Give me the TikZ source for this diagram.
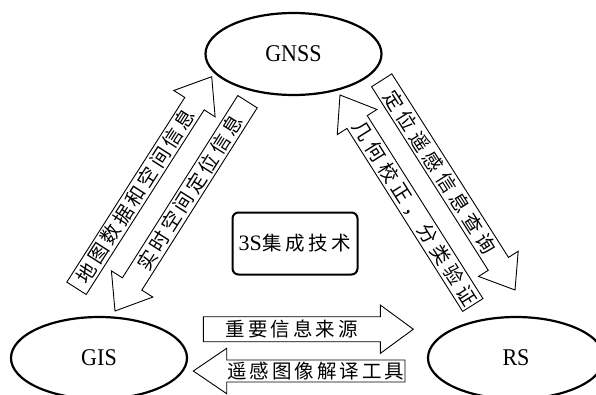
\documentclass[tikz,border=0pt]{standalone}
\usepackage{fontspec}
\setmainfont{Liberation Serif}
\newfontfamily\cjk{Noto Sans CJK SC}
\usetikzlibrary{calc,shapes.geometric}

% set a run of characters with a fixed gap between them
\makeatletter
\newcommand\spreadchars[2]{\def\sc@first{1}%
  \@tfor\sc@c:=#2\do{\ifx\sc@first\empty\hspace{#1}\fi\def\sc@first{}\sc@c}}
\makeatother

% outlined block arrow from a tail point to a tip point, with a label in its shaft
% #1 name, #2 tail, #3 tip, #4 shaft half width, #5 head half width, #6 head length, #7 label
\newcommand\blockarrow[7]{%
  \coordinate (#1-base) at ($(#3)!#6!(#2)$);
  \draw[arrowline] ($(#2)!#4!90:(#3)$) -- ($(#1-base)!#4!90:(#3)$)
    -- ($(#1-base)!#5!90:(#3)$) -- (#3) -- ($(#1-base)!#5!-90:(#3)$)
    -- ($(#1-base)!#4!-90:(#3)$) -- ($(#2)!#4!-90:(#3)$) -- cycle;
  \path (#2) -- (#1-base) node[midway, sloped, arrowtext] (#1) {#7};
}

\begin{document}
\begin{tikzpicture}[x=1pt, y=1pt,
  sys/.style={ellipse, draw, line width=2.2pt, inner sep=0pt,
    minimum width=176pt, minimum height=82pt,
    font=\fontsize{24}{24}\selectfont},
  core/.style={draw, line width=2pt, rounded corners=6pt, inner sep=0pt,
    minimum width=125pt, minimum height=62pt},
  arrowline/.style={draw, line width=0.9pt, line join=miter},
  arrowtext/.style={inner sep=0pt, font=\cjk\fontsize{19.5}{19.5}\selectfont}]
\useasboundingbox (0,0) rectangle (596,394);
\clip (0,0) rectangle (596,394);

% the three systems
\node[sys] (gnss) at (293.5,340) {\scalebox{0.92}[1]{GNSS}};
\node[sys] (gis)  at (99,36)     {\scalebox{0.92}[1]{GIS}};
\node[sys] (rs)   at (516,36)    {\scalebox{0.92}[1]{RS}};

% integration in the middle
\node[core] (core) at (295,150.5)
  {{\fontsize{22}{22}\selectfont 3S}\hspace{1pt}{\cjk\fontsize{19.5}{19.5}\selectfont\spreadchars{3.5pt}{集成技术}}};

% end points of the information flows
\coordinate (a-tail) at (76.5,105.7);  \coordinate (a-tip) at (211.7,317.3);
\coordinate (b-tail) at (247.5,292.3); \coordinate (b-tip) at (115,83);
\coordinate (c-tail) at (381.7,313.7); \coordinate (c-tip) at (515,104);
\coordinate (d-tail) at (472.8,89);    \coordinate (d-tip) at (340,299);
\coordinate (e-tail) at (203.3,64.8);  \coordinate (e-tip) at (413.3,64.8);
\coordinate (f-tail) at (405,23);      \coordinate (f-tip) at (193.3,23);

\blockarrow{gis2gnss}{a-tail}{a-tip}{11.5pt}{24.5pt}{32pt}{\spreadchars{3.3pt}{地图数据和空间信息}}
\blockarrow{gnss2gis}{b-tail}{b-tip}{11.5pt}{24.5pt}{32pt}{\spreadchars{3.3pt}{实时空间定位信息}}
\blockarrow{gnss2rs}{c-tail}{c-tip}{12pt}{23.5pt}{31pt}{\spreadchars{4.8pt}{定位遥感信息查询}}
\blockarrow{rs2gnss}{d-tail}{d-tip}{12pt}{23.5pt}{32pt}{\spreadchars{4.8pt}{几何校正，分类验证}}
\blockarrow{gis2rs}{e-tail}{e-tip}{12.5pt}{24.2pt}{33pt}{\spreadchars{3pt}{重要信息来源}}
\blockarrow{rs2gis}{f-tail}{f-tip}{11pt}{22.7pt}{33.4pt}{\spreadchars{3pt}{遥感图像解译工具}}
\end{tikzpicture}
\end{document}
